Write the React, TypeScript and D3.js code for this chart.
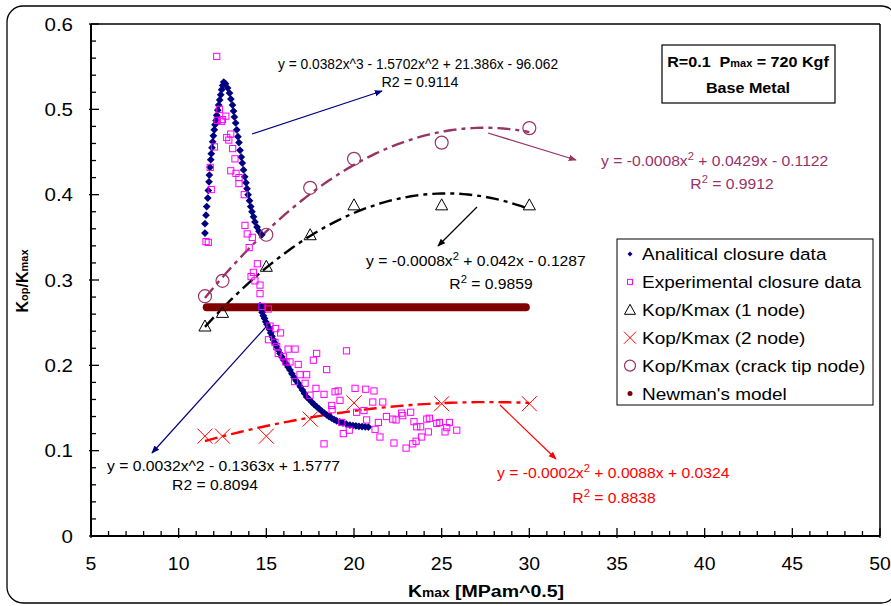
import React, { useEffect } from "react";
import * as d3 from "d3";

const W = 891;
const H = 606;

// axis ticks
const X_TICKS = [5, 10, 15, 20, 25, 30, 35, 40, 45, 50];
const Y_TICKS = [0, 0.1, 0.2, 0.3, 0.4, 0.5, 0.6];
const Y_TICK_LABELS = ["0", "0.1", "0.2", "0.3", "0.4", "0.5", "0.6"];

// FE results (Kmax values shared)
const NODE_K = [11.5, 12.5, 15, 17.5, 20, 25, 30];
const ONE_NODE = [0.246, 0.262, 0.316, 0.353, 0.388, 0.388, 0.388];
const TWO_NODE = [0.117, 0.117, 0.117, 0.137, 0.156, 0.155, 0.155];
const CRACK_TIP = [0.281, 0.299, 0.353, 0.408, 0.442, 0.461, 0.478];

// Newman's model (constant)
const NEWMAN_VALUE = 0.268;
const NEWMAN_K_RANGE = [11.6, 29.8];

// Analytical closure data
const ANA_K = [
  11.5, 11.5, 11.56, 11.6, 11.66, 11.69, 11.73, 11.75, 11.79, 11.83, 11.86, 11.9, 11.94, 11.98, 12.03, 12.07, 12.13, 12.17, 12.23, 12.28, 12.34, 12.4, 12.45, 12.51, 12.57,
  12.67, 12.79, 12.9, 12.98, 13.07, 13.13, 13.18, 13.25, 13.31, 13.38, 13.44, 13.5, 13.57, 13.63, 13.7, 13.77, 13.84, 13.9, 13.96, 14.04, 14.11, 14.18, 14.27, 14.35, 14.47, 14.58, 14.74,
  14.64, 14.7, 14.76, 14.83, 14.9, 14.97, 15.04, 15.11, 15.18, 15.25, 15.32, 15.4, 15.49, 15.58, 15.68, 15.78, 15.88, 16.0, 16.12, 16.24, 16.35, 16.46, 16.58, 16.7, 16.82, 16.94, 17.06, 17.18, 17.3, 17.45, 17.59, 17.73, 17.87, 18.01, 18.16, 18.3, 18.44, 18.58, 18.73, 18.87, 19.01, 19.19, 19.37, 19.57, 19.77, 19.94, 20.11, 20.28, 20.46, 20.64, 20.82,
];
const ANA_R = [
  0.355, 0.366, 0.376, 0.386, 0.396, 0.405, 0.415, 0.423, 0.432, 0.441, 0.448, 0.455, 0.462, 0.469, 0.476, 0.482, 0.487, 0.493, 0.499, 0.505, 0.511, 0.517, 0.523, 0.528, 0.532,
  0.53, 0.525, 0.519, 0.512, 0.505, 0.498, 0.491, 0.484, 0.476, 0.468, 0.461, 0.452, 0.444, 0.437, 0.429, 0.421, 0.414, 0.407, 0.4, 0.393, 0.386, 0.38, 0.374, 0.368, 0.362, 0.357, 0.353,
  0.27, 0.266, 0.262, 0.258, 0.255, 0.251, 0.248, 0.245, 0.242, 0.238, 0.234, 0.23, 0.226, 0.222, 0.218, 0.214, 0.21, 0.206, 0.202, 0.198, 0.1945, 0.19, 0.186, 0.182, 0.179, 0.175, 0.171, 0.167, 0.163, 0.16, 0.157, 0.154, 0.1515, 0.149, 0.1465, 0.144, 0.142, 0.14, 0.138, 0.1365, 0.135, 0.1337, 0.1324, 0.131, 0.13, 0.1295, 0.129, 0.1285, 0.1283, 0.128, 0.1277,
];

// Experimental closure data
const EXP_K = [
  12.17, 12.32, 12.69, 12.2, 12.5, 12.45, 12.97, 12.74, 12.86, 12.04, 13.08, 13.21, 11.8, 12.97, 13.27, 13.44, 13.44, 11.86, 13.74, 13.78, 13.91, 14.2, 14.02, 11.56, 11.69,
  14.49, 14.26, 14.13, 14.35, 14.64, 14.64, 14.75, 15.11, 15.21, 15.53, 15.81, 15.12, 15.49, 15.59, 16.24, 16.64, 15.68, 15.97, 17.87, 17.68, 19.57, 16.12, 16.35, 16.82,
  18.44, 16.92, 17.3, 16.61, 17.21, 17.83, 17.49, 18.29, 18.92, 19.1, 20.06, 20.67, 21.14, 19.2, 21.07, 21.64, 18.73, 18.75, 20.15, 20.57, 20.72, 19.3, 21.85, 21.39,
  22.21, 22.72, 22.78, 22.4, 23.23, 23.42, 24.15, 24.3, 24.72, 24.87, 25.44, 25.29, 25.86, 25.19, 23.58, 23.8, 24.24, 23.86, 23.54, 21.2, 21.48, 19.73, 19.39, 22.28, 23.35, 22.97, 18.29,
];
const EXP_R = [
  0.562, 0.5, 0.492, 0.487, 0.488, 0.486, 0.471, 0.467, 0.464, 0.456, 0.454, 0.442, 0.432, 0.428, 0.425, 0.42, 0.413, 0.406, 0.4, 0.364, 0.354, 0.35, 0.338, 0.345, 0.344,
  0.319, 0.309, 0.304, 0.299, 0.294, 0.284, 0.269, 0.266, 0.246, 0.243, 0.238, 0.23, 0.227, 0.222, 0.219, 0.219, 0.214, 0.21, 0.214, 0.206, 0.217, 0.204, 0.204, 0.201,
  0.195, 0.189, 0.189, 0.181, 0.179, 0.173, 0.165, 0.166, 0.169, 0.17, 0.173, 0.172, 0.17, 0.159, 0.157, 0.157, 0.153, 0.148, 0.145, 0.147, 0.136, 0.133, 0.14, 0.133,
  0.137, 0.144, 0.141, 0.136, 0.145, 0.134, 0.137, 0.138, 0.132, 0.133, 0.133, 0.127, 0.124, 0.122, 0.128, 0.128, 0.122, 0.116, 0.111, 0.125, 0.116, 0.124, 0.12, 0.109, 0.108, 0.103, 0.108,
];

const NAVY = "#000080";
const MAGENTA = "#FF00FF";
const PLUM = "#993366";
const RED = "#FF0000";
const DARKRED = "#800000";
const FONT = "Arial, 'Liberation Sans', Helvetica, sans-serif";

function polyfit2(xs: number[], ys: number[]) {
  let s0 = 0, s1 = 0, s2 = 0, s3 = 0, s4 = 0, t0 = 0, t1 = 0, t2 = 0;
  xs.forEach((x, i) => {
    const y = ys[i];
    s0 += 1; s1 += x; s2 += x * x; s3 += x ** 3; s4 += x ** 4;
    t0 += y; t1 += x * y; t2 += x * x * y;
  });
  const det = (m: number[][]) =>
    m[0][0] * (m[1][1] * m[2][2] - m[1][2] * m[2][1]) -
    m[0][1] * (m[1][0] * m[2][2] - m[1][2] * m[2][0]) +
    m[0][2] * (m[1][0] * m[2][1] - m[1][1] * m[2][0]);
  const A = [[s4, s3, s2], [s3, s2, s1], [s2, s1, s0]];
  const B = [t2, t1, t0];
  const D = det(A);
  const coef = [0, 1, 2].map((c) => {
    const M = A.map((row, r) => row.map((v, j) => (j === c ? B[r] : v)));
    return det(M) / D;
  });
  return (x: number) => coef[0] * x * x + coef[1] * x + coef[2];
}

// horizontally stretched text (reference text is slightly wide)
function SText(props: { x: number; y: number; sx?: number; anchor?: string; size: number; fill?: string; weight?: string; children: React.ReactNode }) {
  const { x, y, sx = 1, anchor = "start", size, fill = "#000", weight = "normal", children } = props;
  return (
    <g transform={`translate(${x},${y}) scale(${sx},1)`}>
      <text x={0} y={0} textAnchor={anchor} fontSize={size} fill={fill} fontWeight={weight}>{children}</text>
    </g>
  );
}

export default function App() {
  useEffect(() => {
    document.body.style.margin = "0";
  }, []);

  const x = d3.scaleLinear().domain([5, 50]).range([91, 880]);
  const y = d3.scaleLinear().domain([0, 0.6]).range([536, 24]);

  const kMin = d3.min(NODE_K) as number;
  const kMax = d3.max(NODE_K) as number;
  const ks = d3.range(kMin, kMax + 0.001, 0.25);
  const line = d3.line<[number, number]>().x((d) => x(d[0])).y((d) => y(d[1]));
  const trend = (vals: number[]) => {
    const f = polyfit2(NODE_K, vals);
    return line(ks.map((k) => [k, f(k)] as [number, number])) as string;
  };

  const minorX = d3.range(5, 50.001, 1);
  const minorY = d3.range(0, 0.6001, 0.02);

  const diamond = d3.symbol().type(d3.symbolDiamond2).size(38)() as string;
  const diamondLg = d3.symbol().type(d3.symbolDiamond2).size(16)() as string;
  const triangle = (cx: number, cy: number, s: number) =>
    `M${cx},${cy - s * 0.55}L${cx + s * 0.55},${cy + s * 0.45}L${cx - s * 0.55},${cy + s * 0.45}Z`;
  const cross = (cx: number, cy: number, s: number) =>
    `M${cx - s},${cy - s}L${cx + s},${cy + s}M${cx - s},${cy + s}L${cx + s},${cy - s}`;

  const legendItems = [
    "Analitical closure data",
    "Experimental closure data",
    "Kop/Kmax (1 node)",
    "Kop/Kmax (2 node)",
    "Kop/Kmax (crack tip node)",
    "Newman's model",
  ];
  const legendRowY = (i: number) => 254 + i * 27.9;

  const sup = (t: string) => (
    <tspan dy={-6} fontSize={10}>{t}</tspan>
  );
  const back = (t: string) => <tspan dy={6}>{t}</tspan>;

  const EQ = 14;
  const EQX = 1.12;

  return (
    <svg width={W} height={H} style={{ position: "absolute", left: 0, top: 0, background: "#fff" }} fontFamily={FONT}>
      <defs>
        {[["navy", NAVY], ["plum", PLUM], ["black", "#000"], ["red", RED]].map(([id, c]) => (
          <marker key={id} id={`arr-${id}`} viewBox="0 0 10 10" refX={9} refY={5} markerWidth={8} markerHeight={8} markerUnits="userSpaceOnUse" orient="auto">
            <path d="M0,1L10,5L0,9Z" fill={c} />
          </marker>
        ))}
      </defs>
      <rect x={0} y={0} width={W} height={H} fill="#fff" />
      {/* outer rounded frame */}
      <rect x={7} y={6} width={890} height={597} rx={16} ry={16} fill="none" stroke="#000" strokeWidth={1.3} />

      {/* plot frame */}
      <line x1={x(5)} x2={x(50)} y1={y(0.6)} y2={y(0.6)} stroke="#000" strokeWidth={1.5} />
      <line x1={x(50)} x2={x(50)} y1={y(0.6)} y2={y(0)} stroke="#000" strokeWidth={1.5} />

      {/* axes */}
      <line x1={x(5)} x2={x(50)} y1={y(0)} y2={y(0)} stroke="#000" strokeWidth={2} />
      <line x1={x(5)} x2={x(5)} y1={y(0)} y2={y(0.6)} stroke="#000" strokeWidth={2} />
      {minorX.map((k) => {
        const major = Math.abs(k % 5) < 1e-6;
        return <line key={"xt" + k} x1={x(k)} x2={x(k)} y1={y(0) + (major ? 2 : 0)} y2={y(0) - (major ? 8 : 5)} stroke="#000" strokeWidth={1.3} />;
      })}
      {minorY.map((v, i) => {
        const major = i % 5 === 0;
        return <line key={"yt" + i} x1={x(5) - (major ? 2 : 0)} x2={x(5) + (major ? 8 : 5)} y1={y(v)} y2={y(v)} stroke="#000" strokeWidth={1.3} />;
      })}
      {X_TICKS.map((k) => (
        <SText key={"xl" + k} x={x(k)} y={570} anchor="middle" size={18} sx={1.08}>{k}</SText>
      ))}
      {Y_TICKS.map((v, i) => (
        <SText key={"yl" + v} x={73} y={y(v) + 6.5} anchor="end" size={19} sx={1.08}>{Y_TICK_LABELS[i]}</SText>
      ))}

      {/* axis titles */}
      <SText x={486} y={597} anchor="middle" size={17} sx={1.15} weight="bold">
        K<tspan fontSize={12}>max</tspan> [MPam^0.5]
      </SText>
      <text transform="translate(28,281) rotate(-90)" textAnchor="middle" fontSize={16} fontWeight="bold">
        K<tspan fontSize={11}>op</tspan>/K<tspan fontSize={11}>max</tspan>
      </text>

      {/* trend lines */}
      <path d={trend(CRACK_TIP)} fill="none" stroke={PLUM} strokeWidth={2.4} strokeDasharray="13,5,4,5" />
      <path d={trend(ONE_NODE)} fill="none" stroke="#000" strokeWidth={2.4} strokeDasharray="13,5,4,5" />
      <path d={trend(TWO_NODE)} fill="none" stroke={RED} strokeWidth={2.4} strokeDasharray="13,5,4,5" />

      {/* Newman's model */}
      <line x1={x(NEWMAN_K_RANGE[0])} x2={x(NEWMAN_K_RANGE[1])} y1={y(NEWMAN_VALUE)} y2={y(NEWMAN_VALUE)} stroke={DARKRED} strokeWidth={8} strokeLinecap="round" />

      {/* analytical closure data */}
      {ANA_K.map((k, i) => (
        <path key={"a" + i} d={diamond} transform={`translate(${x(k)},${y(ANA_R[i])})`} fill={NAVY} />
      ))}

      {/* experimental closure data */}
      {EXP_K.map((k, i) => (
        <rect key={"e" + i} x={x(k) - 3.1} y={y(EXP_R[i]) - 3.1} width={6.2} height={6.2} fill="none" stroke={MAGENTA} strokeWidth={1} />
      ))}

      {/* FE markers */}
      {NODE_K.map((k, i) => (
        <path key={"t" + i} d={triangle(x(k), y(ONE_NODE[i]), 11)} fill="none" stroke="#000" strokeWidth={1} />
      ))}
      {NODE_K.map((k, i) => (
        <path key={"x" + i} d={cross(x(k), y(TWO_NODE[i]), 7.5)} fill="none" stroke={RED} strokeWidth={1} />
      ))}
      {NODE_K.map((k, i) => (
        <circle key={"c" + i} cx={x(k)} cy={y(CRACK_TIP[i])} r={6.5} fill="none" stroke={PLUM} strokeWidth={1.2} />
      ))}

      {/* annotation arrows */}
      <line x1={252} y1={134} x2={382} y2={91} stroke={NAVY} strokeWidth={1.2} markerEnd="url(#arr-navy)" />
      <line x1={488} y1={133} x2={576} y2={160} stroke={PLUM} strokeWidth={1.2} markerEnd="url(#arr-plum)" />
      <line x1={477} y1={207} x2={438} y2={246} stroke="#000" strokeWidth={1.2} markerEnd="url(#arr-black)" />
      <line x1={265} y1={328} x2={152} y2={453} stroke={NAVY} strokeWidth={1.2} markerEnd="url(#arr-navy)" />
      <line x1={500} y1={405} x2={556} y2={459} stroke={RED} strokeWidth={1.2} markerEnd="url(#arr-red)" />

      {/* annotation texts */}
      <SText x={418} y={69} anchor="middle" size={14} sx={0.985}>y = 0.0382x^3 - 1.5702x^2 + 21.386x - 96.062</SText>
      <SText x={420} y={87} anchor="middle" size={14} sx={1.02}>R2 = 0.9114</SText>

      <SText x={601} y={166} size={EQ} sx={EQX} fill={PLUM}>y = -0.0008x{sup("2")}{back(" + 0.0429x - 0.1122")}</SText>
      <SText x={732} y={189} anchor="middle" size={EQ} sx={EQX} fill={PLUM}>R{sup("2")}{back(" = 0.9912")}</SText>

      <SText x={366} y={266} size={EQ} sx={EQX}>y = -0.0008x{sup("2")}{back(" + 0.042x - 0.1287")}</SText>
      <SText x={491} y={289} anchor="middle" size={EQ} sx={EQX}>R{sup("2")}{back(" = 0.9859")}</SText>

      <SText x={107} y={471} size={EQ} sx={EQX}>y = 0.0032x^2 - 0.1363x + 1.5777</SText>
      <SText x={215} y={490} anchor="middle" size={EQ} sx={EQX}>R2 = 0.8094</SText>

      <SText x={497} y={478} size={EQ} sx={EQX} fill={RED}>y = -0.0002x{sup("2")}{back(" + 0.0088x + 0.0324")}</SText>
      <SText x={614} y={503} anchor="middle" size={EQ} sx={EQX} fill={RED}>R{sup("2")}{back(" = 0.8838")}</SText>

      {/* title box */}
      <rect x={662} y={45} width={173} height={58} fill="#fff" stroke="#000" strokeWidth={1.2} />
      <SText x={748} y={67} anchor="middle" size={15.5} sx={1.04} weight="bold">
        R=0.1{"\u00a0\u00a0"}P<tspan fontSize={10.5}>max</tspan> = 720 Kgf
      </SText>
      <SText x={748} y={93} anchor="middle" size={15.5} sx={1.04} weight="bold">Base Metal</SText>

      {/* legend */}
      <rect x={617} y={239} width={256} height={166} fill="#fff" stroke="#000" strokeWidth={1} />
      {legendItems.map((t, i) => {
        const cy = legendRowY(i);
        const cx = 630;
        let m: React.ReactNode = null;
        if (i === 0) m = <path d={diamondLg} transform={`translate(${cx},${cy})`} fill={NAVY} />;
        if (i === 1) m = <rect x={cx - 2.5} y={cy - 2.5} width={5} height={5} fill="none" stroke={MAGENTA} />;
        if (i === 2) m = <path d={triangle(cx, cy, 10)} fill="none" stroke="#000" />;
        if (i === 3) m = <path d={cross(cx, cy, 6)} fill="none" stroke={RED} />;
        if (i === 4) m = <circle cx={cx} cy={cy} r={5.5} fill="none" stroke={PLUM} strokeWidth={1.2} />;
        if (i === 5) m = <circle cx={cx} cy={cy} r={2.5} fill={DARKRED} />;
        return (
          <g key={"lg" + i}>
            {m}
            <SText x={642} y={cy + 6} size={16.5} sx={1.15}>{t}</SText>
          </g>
        );
      })}
    </svg>
  );
}
